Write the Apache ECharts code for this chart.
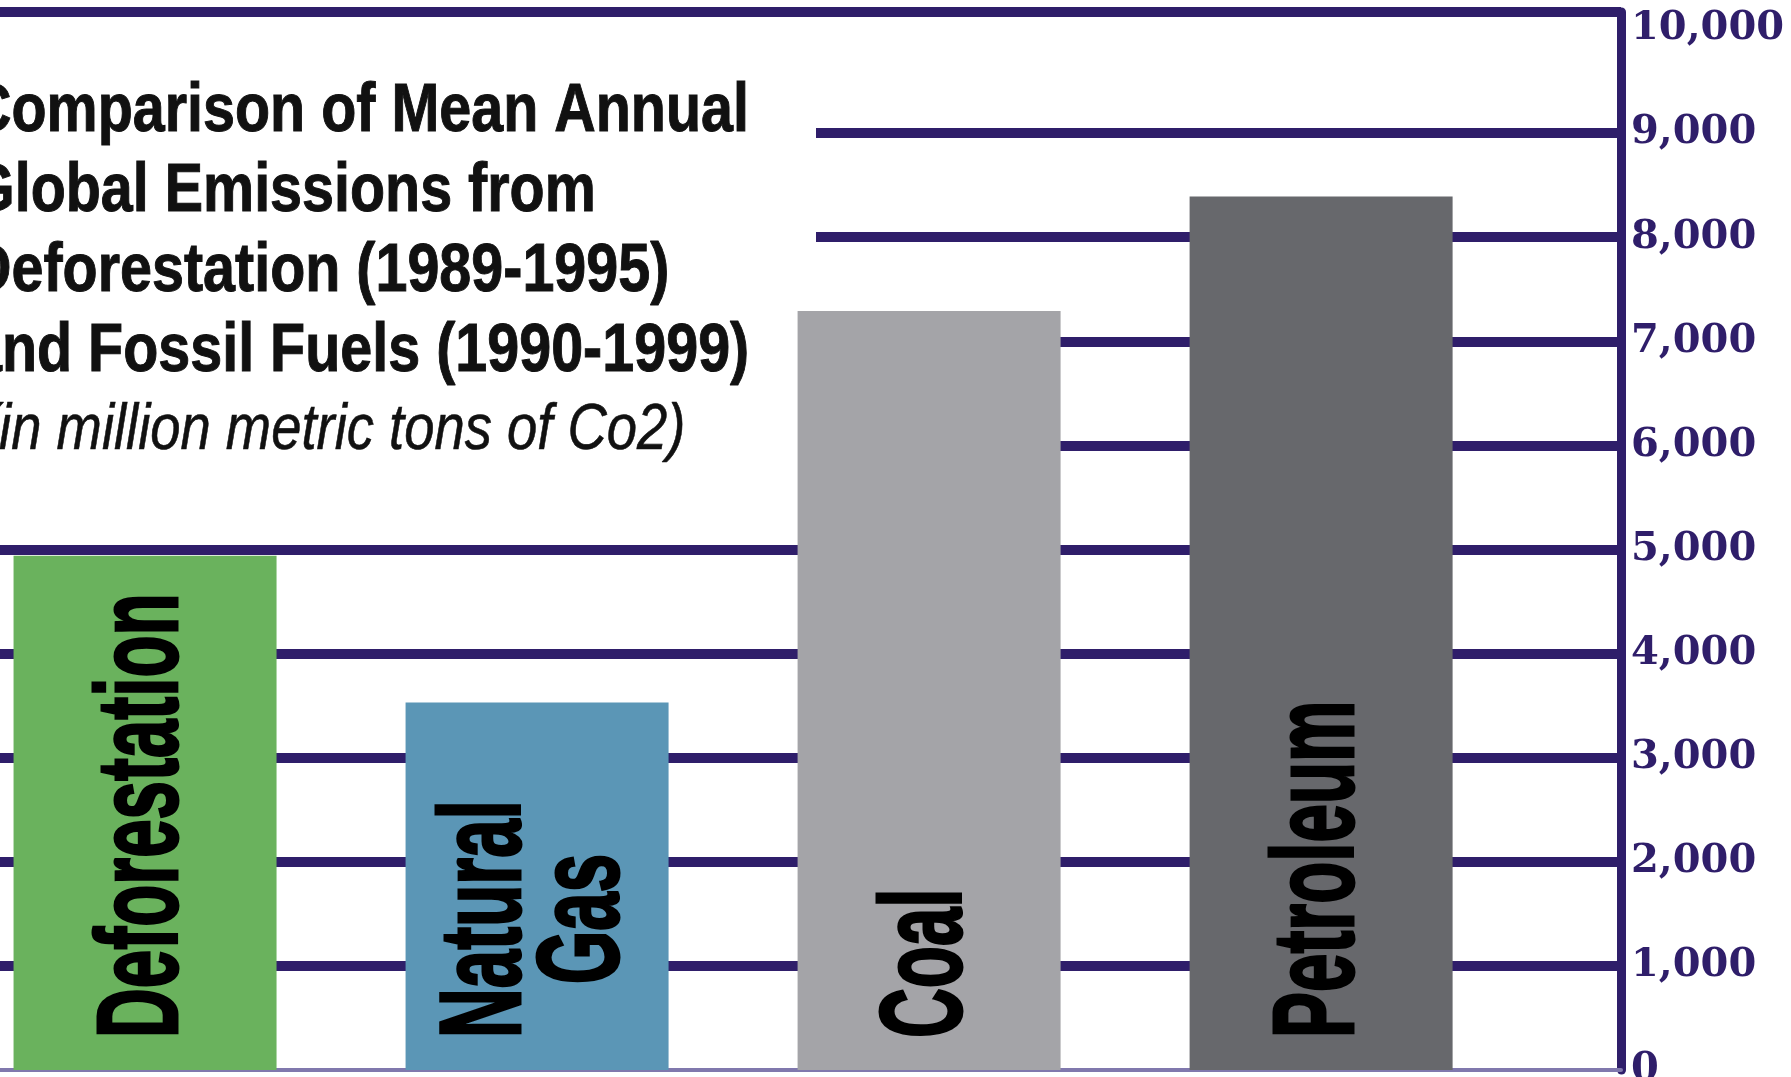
<!DOCTYPE html>
<html>
<head>
<meta charset="utf-8">
<title>Mean annual global emissions</title>
<script src="https://cdn.jsdelivr.net/npm/echarts@6/dist/echarts.min.js"></script>
<style>
  html, body { margin: 0; padding: 0; background: #fff; }
  #chart { width: 1791px; height: 1077px; }
</style>
</head>
<body>
<div id="chart"></div>
<script>
// mean annual emissions, million metric tons of CO2
const categories = ['Deforestation', 'Natural\nGas', 'Coal', 'Petroleum'];
const emissions = [4940, 3530, 7290, 8390];
const barColors = ['#6ab25d', '#5b96b6', '#a4a4a8', '#67686c'];
const yTickLabels = ['0', '1,000', '2,000', '3,000', '4,000', '5,000', '6,000', '7,000', '8,000', '9,000', '10,000'];
const titleLines = [
  'Comparison of Mean Annual',
  'Global Emissions from',
  'Deforestation (1989-1995)',
  'and Fossil Fuels (1990-1999)'
];
const subtitle = '(in million metric tons of Co2)';

const purple = '#2f1e6a';
const labelFont = 'bold 115px "Liberation Sans"';
const labelScale = 0.6;

// measure label length so multi-line labels sit on the same base as the others
const ctx = document.createElement('canvas').getContext('2d');
ctx.font = labelFont;
function labelLength(text) {
  return Math.max.apply(null, text.split('\n').map(t => ctx.measureText(t).width)) * labelScale;
}

// line at 10,000 is not drawn, the top frame line sits above it
const splitColors = [];
for (let k = 1; k <= 11; k++) splitColors.push(k === 10 ? 'rgba(0,0,0,0)' : purple);

const chart = echarts.init(document.getElementById('chart'));

const graphics = [
  // white box behind the title that hides the grid lines
  { type: 'rect', z: 1, shape: { x: 0, y: 20, width: 816, height: 478 }, style: { fill: '#fff' } }
];
titleLines.forEach((t, k) => {
  graphics.push({
    type: 'text', z: 10, x: -30, y: 112 + k * 80, scaleX: 0.845,
    style: { text: t, font: 'bold 68px "Liberation Sans"', fill: '#111', stroke: '#111', lineWidth: 1,
      textAlign: 'left', textVerticalAlign: 'middle', align: 'left', verticalAlign: 'middle' }
  });
});
graphics.push({
  type: 'text', z: 10, x: -19, y: 431, scaleX: 0.85,
  style: { text: subtitle, font: 'italic 64px "Liberation Sans"', fill: '#111', stroke: '#111', lineWidth: 0.6,
    textAlign: 'left', textVerticalAlign: 'middle', align: 'left', verticalAlign: 'middle' }
});

const option = {
  animation: false,
  backgroundColor: '#fff',
  grid: { left: 0, right: 170, top: 12, bottom: 7, outerBoundsMode: 'none', containLabel: false },
  xAxis: {
    type: 'value',
    min: -0.37,
    max: 3.765,
    axisLine: { show: true, onZero: false, offset: 4, lineStyle: { color: '#8078ad', width: 4 } },
    axisTick: { show: false },
    axisLabel: { show: false },
    splitLine: { show: false }
  },
  yAxis: {
    type: 'value',
    position: 'right',
    min: 0,
    max: 10163,
    interval: 1000,
    axisLine: { show: true, onZero: false, lineStyle: { color: purple, width: 9 } },
    axisTick: { show: false },
    axisLabel: {
      margin: 10,
      color: purple,
      fontFamily: 'DejaVu Serif',
      fontWeight: 'bold',
      fontSize: 40,
      showMaxLabel: false,
      formatter: v => yTickLabels[v / 1000] || ''
    },
    splitLine: {
      show: true,
      showMinLine: false,
      lineStyle: { color: splitColors, width: 10 }
    }
  },
  graphic: graphics,
  series: [
    {
      type: 'bar',
      barWidth: 263,
      data: emissions.map((v, i) => ({ value: [i, v], itemStyle: { color: barColors[i] } }))
    },
    {
      type: 'custom',
      z: 5,
      data: categories.map((c, i) => [i, 0]),
      renderItem: function (params, api) {
        const i = params.dataIndex;
        const base = api.coord([api.value(0), 0]);
        const text = categories[i];
        return {
          type: 'text',
          x: base[0],
          y: base[1] - 32 - labelLength(text) / 2,
          rotation: Math.PI / 2,
          scaleX: labelScale,
          style: {
            text: text, font: labelFont, fill: '#000', stroke: '#000', lineWidth: 3,
            lineHeight: 98,
            textAlign: 'center', textVerticalAlign: 'middle', align: 'center', verticalAlign: 'middle'
          }
        };
      }
    }
  ]
};
chart.setOption(option);
</script>
</body>
</html>
